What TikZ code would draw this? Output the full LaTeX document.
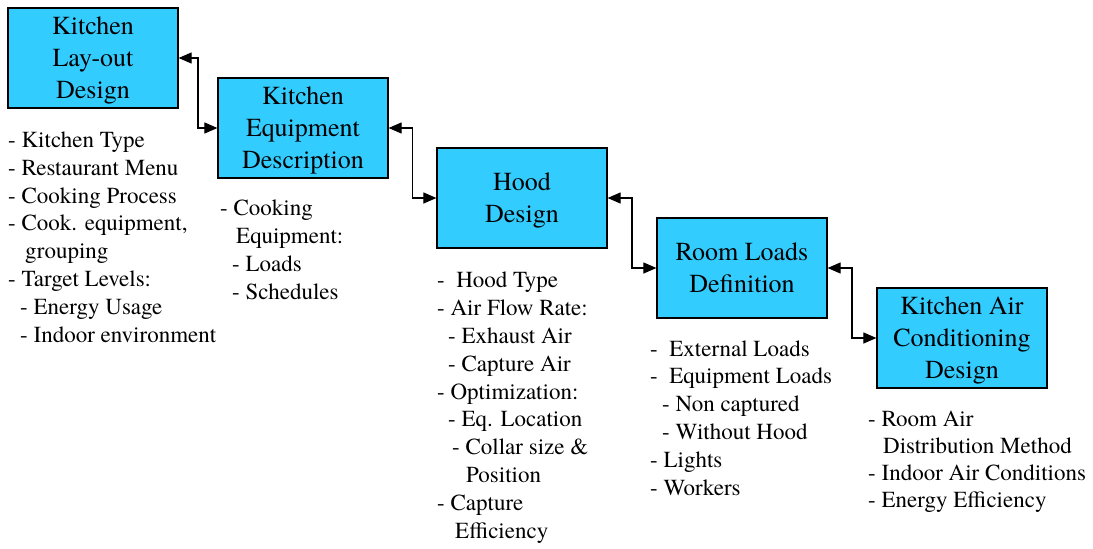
\documentclass[tikz,border=0pt]{standalone}
\usepackage{fontspec}
\setmainfont{texgyretermes}[Extension=.otf,
  UprightFont=*-regular, BoldFont=*-bold,
  ItalicFont=*-italic, BoldItalicFont=*-bolditalic]
\usetikzlibrary{arrows.meta,calc}
\definecolor{boxblue}{RGB}{51,204,255}

\begin{document}
\begin{tikzpicture}[x=1pt,y=-1pt,
    stage/.style={draw, line width=1.2pt, fill=boxblue, minimum width=170pt,
                  minimum height=100pt, align=center, inner sep=0pt,
                  text depth=-8pt, font=\fontsize{26}{32}\selectfont},
    notes/.style={anchor=base west, align=left, inner sep=0pt,
                  font=\fontsize{23}{27.8}\selectfont},
    link/.style={line width=1.1pt,
                 {Triangle[length=13pt,width=11pt]}-{Triangle[length=13pt,width=11pt]}}]
  \useasboundingbox (0,0) rectangle (1093,549);

  % design stages
  \node[stage] (layout) at (93,58)  {Kitchen\\Lay-out\\Design};
  \node[stage] (equip)  at (303,128) {Kitchen\\Equipment\\Description};
  \node[stage] (hood)   at (522,198) {Hood\\Design};
  \node[stage] (loads)  at (742,268) {Room Loads\\Definition};
  \node[stage] (hvac)   at (962,338) {Kitchen Air\\Conditioning\\Design};

  % links between stages
  \draw[link] (layout.east) -| ($(layout.east)!.5!(equip.west)$) |- (equip.west);
  \draw[link] (equip.east) -| ($(equip.east)!.5!(hood.west)$) |- (hood.west);
  \draw[link] (hood.east) -| ($(hood.east)!.5!(loads.west)$) |- (loads.west);
  \draw[link] (loads.east) -| ($(loads.east)!.5!(hvac.west)$) |- (hvac.west);

  % notes under each stage (placed by the baseline of their last line)
  \node[notes] (layoutnotes) at (8,342) {%
    - Kitchen Type\\
    - Restaurant Menu\\
    - Cooking Process\\
    - Cook. equipment,\\
    \hspace*{17pt}grouping\\
    - Target Levels:\\
    \hspace*{12pt}- Energy Usage\\
    \hspace*{12pt}- Indoor environment};
  \node[notes] (equipnotes) at (220,299) {%
    - Cooking\\
    \hspace*{16pt}Equipment:\\
    \hspace*{12pt}- Loads\\
    \hspace*{12pt}- Schedules};
  \node[notes] (hoodnotes) at (437,538) {%
    -\ \ Hood Type\\
    - Air Flow Rate:\\
    \hspace*{11pt}- Exhaust Air\\
    \hspace*{11pt}- Capture Air\\
    - Optimization:\\
    \hspace*{11pt}- Eq. Location\\
    \hspace*{15pt}- Collar size \&\\
    \hspace*{29pt}Position\\
    - Capture\\
    \hspace*{18pt}Efficiency};
  \node[notes] (loadsnotes) at (650,495) {%
    -\ \ External Loads\\
    -\ \ Equipment Loads\\
    \hspace*{12pt}- Non captured\\
    \hspace*{12pt}- Without Hood\\
    - Lights\\
    - Workers};
  \node[notes, font=\fontsize{23}{26.7}\selectfont] (hvacnotes) at (868,507) {%
    - Room Air\\
    \hspace*{15pt}Distribution Method\\
    - Indoor Air Conditions\\
    - Energy Efficiency};
\end{tikzpicture}
\end{document}
